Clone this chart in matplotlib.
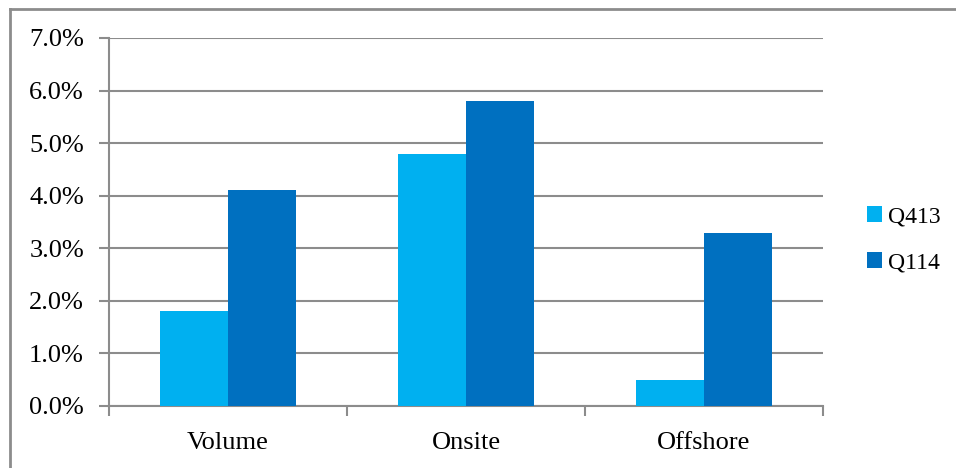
import matplotlib
matplotlib.use('Agg')
import matplotlib.pyplot as plt
from matplotlib.lines import Line2D
from matplotlib.ticker import FuncFormatter
import numpy as np

categories = ['Volume', 'Onsite', 'Offshore']
series_names = ['Q413', 'Q114']
q413 = [1.8, 4.8, 0.5]
q114 = [4.1, 5.8, 3.3]
colors = ['#00B0F0', '#0070C0']

plt.rcParams['font.family'] = ['Liberation Serif', 'DejaVu Serif']
grey = '#8c8c8c'

fig = plt.figure(figsize=(9.56, 4.68), dpi=100)
W, H = 956, 468
ax = fig.add_axes([109 / W, 1 - 406 / H, (823 - 109) / W, (406 - 38) / H])

x = np.arange(len(categories))
w = 68 / 238
ax.bar(x - w / 2, q413, w, color=colors[0], label=series_names[0], zorder=3)
ax.bar(x + w / 2, q114, w, color=colors[1], label=series_names[1], zorder=3)

ax.set_xlim(-0.5, 2.5)
ax.set_ylim(0, 7)
ax.set_yticks(np.arange(0, 7.1, 1))
ax.yaxis.set_major_formatter(FuncFormatter(lambda v, p: '%.1f%%' % v))
ax.grid(axis='y', color=grey, linewidth=1.5, zorder=0)

ax.set_xticks(x)
ax.set_xticklabels(categories)
ax.set_xticks([-0.5, 0.5, 1.5, 2.5], minor=True)
ax.tick_params(axis='x', which='major', length=0, pad=19, labelsize=19)
ax.tick_params(axis='x', which='minor', length=7, width=1.5, color=grey, direction='out')
ax.tick_params(axis='y', length=7, width=1.5, color=grey, pad=11, labelsize=19)

for s in ['top', 'right']:
    ax.spines[s].set_visible(False)
for s in ['left', 'bottom']:
    ax.spines[s].set_color(grey)
    ax.spines[s].set_linewidth(1.5)

ax.legend(loc='center left', bbox_to_anchor=(855 / W, 1 - 240 / H),
          bbox_transform=fig.transFigure, frameon=False, fontsize=17,
          handlelength=0.65, handleheight=0.65, handletextpad=0.25,
          labelspacing=1.05, borderpad=0)

# outer chart border (top and left only visible)
fig.add_artist(Line2D([10 / W, 10 / W], [0, 1 - 9 / H], transform=fig.transFigure,
                      color=grey, linewidth=2))
fig.add_artist(Line2D([10 / W, 1], [1 - 9 / H, 1 - 9 / H], transform=fig.transFigure,
                      color=grey, linewidth=2))

fig.savefig('out.png', dpi=100)
